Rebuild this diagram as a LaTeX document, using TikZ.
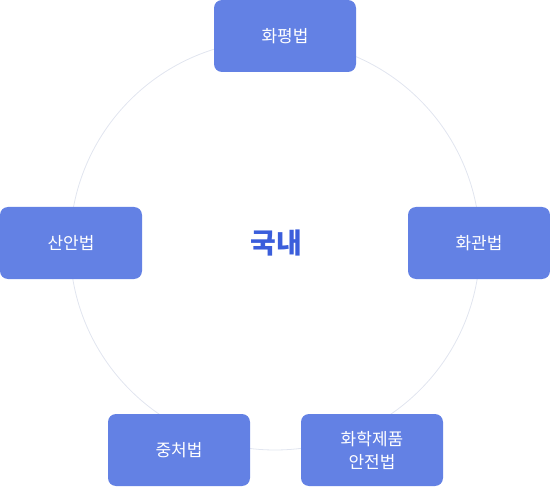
\documentclass[tikz,border=0pt]{standalone}
\usepackage{fontspec}
\newfontfamily\kr{Noto Sans CJK KR}
\definecolor{lawblue}{HTML}{6381E4}
\definecolor{ringgray}{HTML}{E1E5EF}
\definecolor{titleblue}{HTML}{3B5EDB}
\tikzset{
    lawbox/.style={fill=lawblue, rounded corners=8pt, minimum width=142pt,
        minimum height=72pt, text=white, align=center, inner sep=0pt,
        font=\kr\fontsize{17}{23}\selectfont}
}
\begin{document}
\begin{tikzpicture}[x=1pt,y=-1pt]
        \useasboundingbox (0, 0) rectangle (550, 487);
        \draw[ringgray, line width=0.8pt] (275, 245) circle (205);
        \node[font=\kr\bfseries\fontsize{28}{32}\selectfont, text=titleblue] (domestic) at (276, 243) {국내};
        \node[lawbox] (hwapyeong) at (285, 36) {화평법};
        \node[lawbox] (sanan) at (71, 243) {산안법};
        \node[lawbox] (hwagwan) at (479, 243) {화관법};
        \node[lawbox] (jungcheo) at (179, 450) {중처법};
        \node[lawbox] (hwahak) at (372, 450) {화학제품\\안전법};
    \end{tikzpicture}
\end{document}
